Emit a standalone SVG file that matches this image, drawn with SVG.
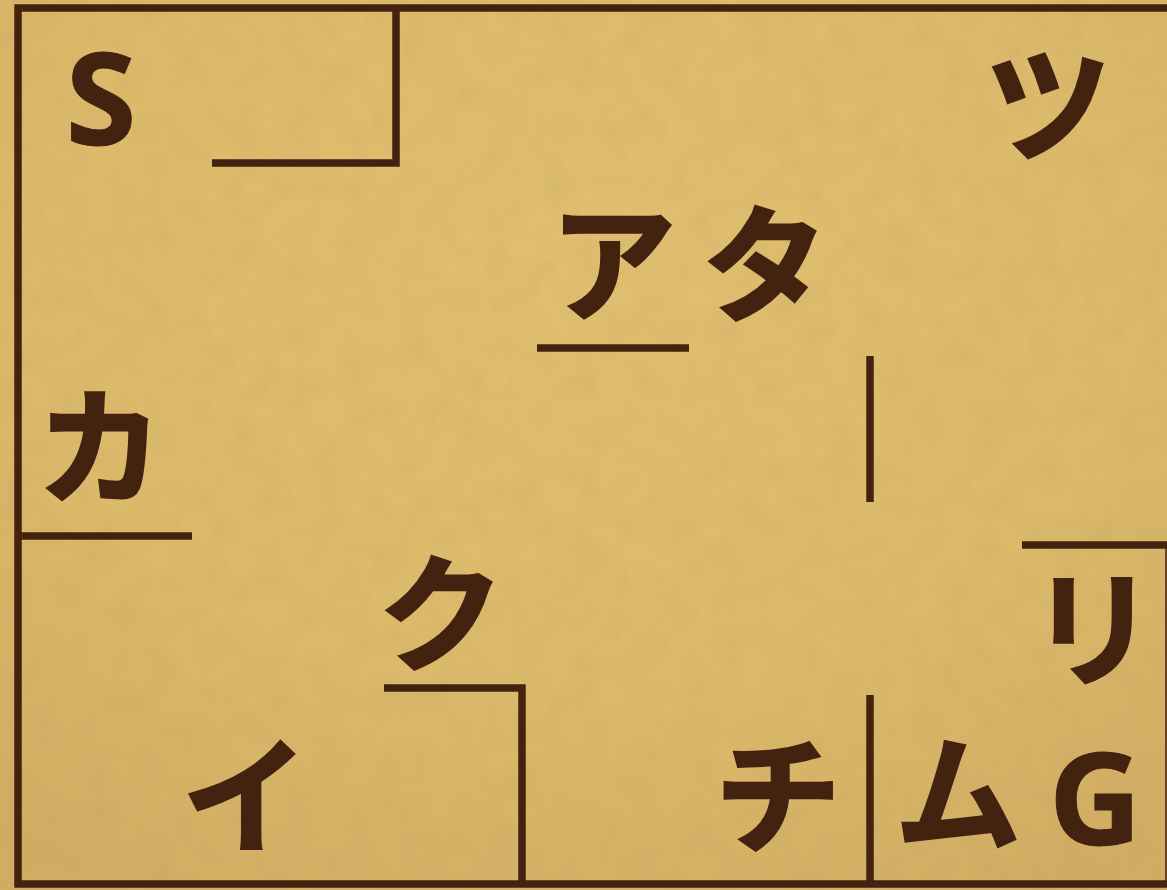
<svg xmlns="http://www.w3.org/2000/svg" width="1167" height="890" viewBox="0 0 1167 890">
<defs>
<radialGradient id="bg" cx="50%" cy="30%" r="80%"><stop offset="0" stop-color="#e0bf71"/><stop offset="0.6" stop-color="#dcba6b"/><stop offset="1" stop-color="#d0ad62"/></radialGradient>
<filter id="grain" x="0" y="0" width="100%" height="100%"><feTurbulence type="fractalNoise" baseFrequency="0.035" numOctaves="5" seed="3"/><feColorMatrix values="0 0 0 0 0.5 0 0 0 0 0.35 0 0 0 0 0.12 0 0 0 0.35 -0.11"/></filter>
</defs>
<style>
.w{stroke:#43220f;fill:none;stroke-width:7.5;stroke-linecap:butt;stroke-linejoin:miter}
.t{fill:#43220f;stroke:#43220f;stroke-width:2.5;stroke-linejoin:miter;font-family:"Noto Sans CJK JP","Noto Sans",sans-serif;font-weight:700;text-anchor:middle;font-size:126px}
.l{font-family:"Open Sans","Noto Sans",sans-serif;font-size:128px;stroke-width:1}
</style>
<rect width="1167" height="890" fill="url(#bg)"/>
<rect width="1167" height="890" filter="url(#grain)"/>
<g id="connectors">
<path class="w" d="M1167 8H18V884H1167"/>
<path class="w" d="M212 163H396V8"/>
<path class="w" d="M537 348H689"/>
<path class="w" d="M870 356V502"/>
<path class="w" d="M18 536H192"/>
<path class="w" d="M1022 545H1167"/>
<path class="w" d="M384 688H522V884"/>
<path class="w" d="M870 695V884"/>
<path d="M1166 545V884" stroke="#43220f" stroke-width="1.5" fill="none"/>
</g>
<g id="n-s"><text class="t l" x="101" y="145">S</text></g>
<g id="n-tsu"><text class="t" x="1048" y="152">ツ</text></g>
<g id="n-a"><text class="t" x="613" y="311">ア</text></g>
<g id="n-ta"><text class="t" x="765" y="312">タ</text></g>
<g id="n-ka"><text class="t" x="100" y="494">カ</text></g>
<g id="n-ku"><text class="t" x="441" y="661">ク</text></g>
<g id="n-ri"><text class="t" x="1093" y="676">リ</text></g>
<g id="n-i"><text class="t" x="245" y="843">イ</text></g>
<g id="n-chi"><text class="t" x="778" y="843">チ</text></g>
<g id="n-mu"><text class="t" x="958" y="841">ム</text></g>
<g id="n-g"><text class="t l" x="1095" y="845">G</text></g>
</svg>
